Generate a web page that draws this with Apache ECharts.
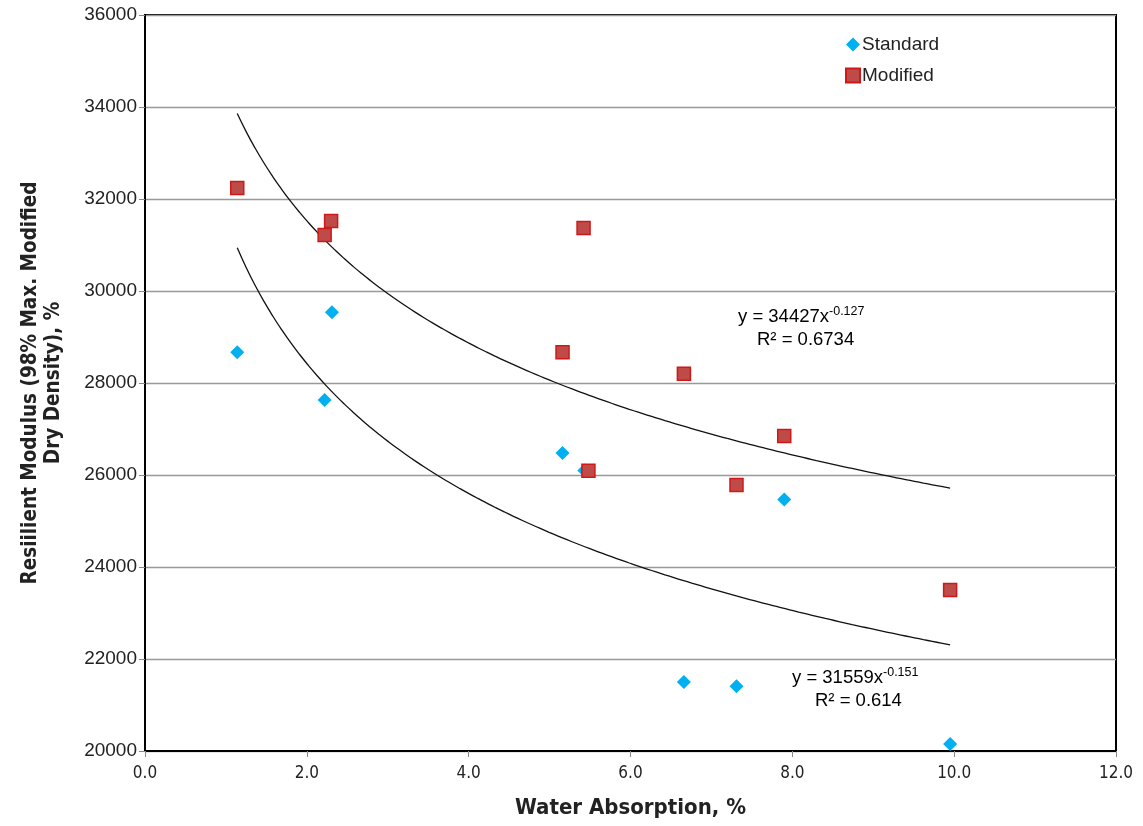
<!DOCTYPE html>
<html>
<head>
<meta charset="utf-8">
<script src="https://cdn.jsdelivr.net/npm/echarts@6/dist/echarts.min.js"></script>
<style>html,body{margin:0;padding:0;background:#fff;}#c{width:1143px;height:826px;}</style>
</head>
<body>
<div id="c"></div>
<script>
// Data
const standardX = [1.14, 2.22, 2.31, 5.16, 5.43, 6.66, 7.31, 7.90, 9.95];
const standardY = [28670, 27630, 29540, 26480, 26100, 21500, 21410, 25470, 20150];
const modifiedX = [1.14, 2.22, 2.30, 5.42, 5.16, 5.48, 6.66, 7.31, 7.90, 9.95];
const modifiedY = [32240, 31220, 31520, 31370, 28670, 26090, 28200, 25780, 26850, 23500];
// Power trend lines as printed on the chart: y = a * x^b
const modifiedFit = [34427, -0.127];
const standardFit = [31559, -0.151];
const fitRange = [1.14, 9.95];
const yTicks = [20000, 36000, 2000];
const xTicks = [0, 12, 2];

function fitLine(fit) {
  const pts = [];
  const n = 80;
  for (let i = 0; i <= n; i++) {
    const x = fitRange[0] + (fitRange[1] - fitRange[0]) * i / n;
    pts.push([x, fit[0] * Math.pow(x, fit[1])]);
  }
  return pts;
}
const zip = (a, b) => a.map((v, i) => [v, b[i]]);

const chart = echarts.init(document.getElementById('c'), null, {renderer: 'canvas'});
const labelFont = 'Liberation Sans, Arial, sans-serif';
const narrowFont = '"DejaVu Sans Condensed", "Liberation Sans Narrow", sans-serif';

chart.setOption({
  animation: false,
  backgroundColor: '#fff',
  grid: {left: 145, right: 27, top: 15, bottom: 75, show: true, borderColor: '#000', borderWidth: 2, backgroundColor: 'transparent'},
  xAxis: {
    type: 'value', min: xTicks[0], max: xTicks[1], interval: xTicks[2],
    axisLine: {show: true, onZero: false, lineStyle: {color: '#000', width: 2}},
    axisTick: {show: true, inside: false, length: 6, lineStyle: {color: '#888'}},
    splitLine: {show: false},
    axisLabel: {formatter: v => v.toFixed(1), fontFamily: narrowFont, fontSize: 17, color: '#222', margin: 14},
    name: 'Water Absorption, %', nameLocation: 'middle', nameGap: 46,
    nameTextStyle: {fontFamily: narrowFont, fontWeight: 'bold', fontSize: 22, color: '#222'}
  },
  yAxis: {
    type: 'value', min: yTicks[0], max: yTicks[1], interval: yTicks[2],
    axisLine: {show: true, onZero: false, lineStyle: {color: '#000', width: 2}},
    axisTick: {show: true, inside: false, length: 6, lineStyle: {color: '#888'}},
    splitLine: {show: true, lineStyle: {color: '#999', width: 1.3}},
    axisLabel: {formatter: v => String(v), fontFamily: labelFont, fontSize: 19, color: '#222', margin: 8},
    name: 'Resiilient Modulus (98% Max. Modified\nDry Density), %', nameLocation: 'middle', nameGap: 80,
    nameTextStyle: {fontFamily: narrowFont, fontWeight: 'bold', fontSize: 20.5, color: '#222', lineHeight: 23}
  },
  legend: {
    orient: 'vertical', left: 840, top: 30, itemWidth: 14, itemHeight: 14, itemGap: 12,
    textStyle: {fontFamily: labelFont, fontSize: 19, color: '#222', padding: [0, 0, 0, -3]},
    data: [{name: 'Standard', icon: 'diamond'}, {name: 'Modified', icon: 'rect'}]
  },
  series: [
    {name: 'Standard', type: 'scatter', symbol: 'diamond', symbolSize: 14, z: 3,
     itemStyle: {color: '#00B0F0', opacity: 1}, data: zip(standardX, standardY)},
    {name: 'Modified', type: 'scatter', symbol: 'rect', symbolSize: 13, z: 4,
     itemStyle: {color: '#BE4B48', borderColor: '#D01818', borderWidth: 1.5, opacity: 1}, data: zip(modifiedX, modifiedY)},
    {name: 'fitM', type: 'line', data: fitLine(modifiedFit), showSymbol: false, smooth: true, z: 2,
     lineStyle: {color: '#111', width: 1.3}, silent: true},
    {name: 'fitS', type: 'line', data: fitLine(standardFit), showSymbol: false, smooth: true, z: 2,
     lineStyle: {color: '#111', width: 1.3}, silent: true}
  ],
  graphic: [
    {type: 'text', left: 738, top: 305, style: {
      text: '{b|y = ' + modifiedFit[0] + 'x}{s|' + modifiedFit[1] + '}\n{c|R² = 0.6734}',
      rich: {b: {fontFamily: labelFont, fontSize: 18.5, color: '#222', lineHeight: 23},
             s: {fontFamily: labelFont, fontSize: 12.5, color: '#222', verticalAlign: 'top', lineHeight: 13, padding: [0,0,12,0]},
             c: {fontFamily: labelFont, fontSize: 18.5, color: '#222', lineHeight: 23, padding: [0,0,0,19]}}
    }},
    {type: 'text', left: 792, top: 666, style: {
      text: '{b|y = ' + standardFit[0] + 'x}{s|' + standardFit[1] + '}\n{c|R² = 0.614}',
      rich: {b: {fontFamily: labelFont, fontSize: 18.5, color: '#222', lineHeight: 23},
             s: {fontFamily: labelFont, fontSize: 12.5, color: '#222', verticalAlign: 'top', lineHeight: 13, padding: [0,0,12,0]},
             c: {fontFamily: labelFont, fontSize: 18.5, color: '#222', lineHeight: 23, padding: [0,0,0,23]}}
    }}
  ]
});
</script>
</body>
</html>
